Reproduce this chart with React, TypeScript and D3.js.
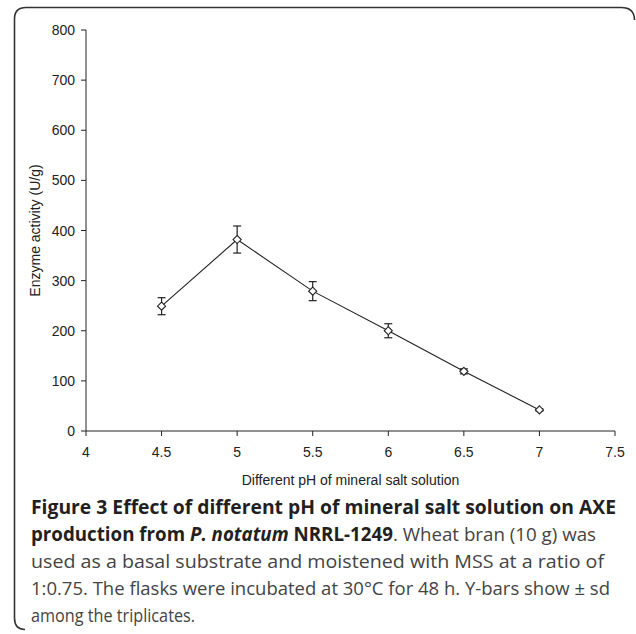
import React from 'react';
import * as d3 from 'd3';

const phValues = [4.5, 5, 5.5, 6, 6.5, 7];
const activity = [249, 382, 279, 200, 119, 42];
const stdDev = [17, 27, 19, 14, 5, 2];
const xTicks = [4, 4.5, 5, 5.5, 6, 6.5, 7, 7.5];
const yTicks = [0, 100, 200, 300, 400, 500, 600, 700, 800];

const W = 636;
const H = 634;
const m = { left: 86, right: 21, top: 30, bottom: 203 };

export default function App() {
  const x = d3.scaleLinear().domain([4, 7.5]).range([m.left, W - m.right]);
  const y = d3.scaleLinear().domain([0, 800]).range([H - m.bottom, m.top]);
  const pts = phValues.map((p, i) => ({ p, v: activity[i], sd: stdDev[i] }));
  const line = d3.line<{ p: number; v: number }>().x(d => x(d.p)).y(d => y(d.v));
  const diamond = d3.symbol().type(d3.symbolDiamond2).size(42)();
  const axisColor = '#222';
  const font = "'Liberation Sans', Arial, sans-serif";
  const cap = "'Open Sans', 'Noto Sans', sans-serif";
  const y0 = y(0);
  const plotMidX = (x(4) + x(7.5)) / 2;
  const plotMidY = (y(0) + y(800)) / 2;

  return (
    <svg width={W} height={H} style={{ position: 'absolute', left: 0, top: 0 }}>
      <rect width={W} height={H} fill="#fff" />
      <path d="M 634.5 20 Q 634.5 7.5 621 7.5 L 26 7.5 Q 14.5 7.5 14.5 19 L 14.5 618 Q 14.5 629.5 25 629.5"
        fill="none" stroke="#333" strokeWidth={1.6} />

      {/* axes */}
      <line x1={x(4)} x2={x(4)} y1={y(800)} y2={y0} stroke={axisColor} strokeWidth={1} />
      <line x1={x(4)} x2={x(7.5)} y1={y0} y2={y0} stroke={axisColor} strokeWidth={1} />
      {yTicks.map(t => (
        <g key={'y' + t}>
          <line x1={x(4) - 5} x2={x(4)} y1={y(t)} y2={y(t)} stroke={axisColor} />
          <text x={x(4) - 11} y={y(t) + 5} textAnchor="end" fontSize={14} fontFamily={font} fill="#222">{t}</text>
        </g>
      ))}
      {xTicks.map(t => (
        <g key={'x' + t}>
          <line x1={x(t)} x2={x(t)} y1={y0} y2={y0 + 5} stroke={axisColor} />
          <text x={x(t)} y={y0 + 26} textAnchor="middle" fontSize={14} fontFamily={font} fill="#222">{t}</text>
        </g>
      ))}
      <text transform={`translate(40,${plotMidY}) rotate(-90)`} textAnchor="middle" fontSize={14} fontFamily={font} fill="#222">
        Enzyme activity (U/g)
      </text>
      <text x={plotMidX} y={485} textAnchor="middle" fontSize={14} fontFamily={font} fill="#222">
        Different pH of mineral salt solution
      </text>

      {/* data line */}
      <path d={line(pts) ?? ''} fill="none" stroke="#222" strokeWidth={1.1} />
      {pts.map(d => (
        <g key={'e' + d.p} stroke="#222" strokeWidth={1.2}>
          <line x1={x(d.p)} x2={x(d.p)} y1={y(d.v + d.sd)} y2={y(d.v - d.sd)} />
          <line x1={x(d.p) - 4} x2={x(d.p) + 4} y1={y(d.v + d.sd)} y2={y(d.v + d.sd)} />
          <line x1={x(d.p) - 4} x2={x(d.p) + 4} y1={y(d.v - d.sd)} y2={y(d.v - d.sd)} />
        </g>
      ))}
      {pts.map(d => (
        <path key={'m' + d.p} d={diamond ?? ''} transform={`translate(${x(d.p)},${y(d.v)})`}
          fill="#fff" stroke="#222" strokeWidth={1.1} />
      ))}

      {/* caption */}
      <g fontFamily={cap} fontSize={19} fill="#231f20">
        <text x={31} y={514} fontWeight="bold" textLength={585} lengthAdjust="spacingAndGlyphs">
          Figure 3 Effect of different pH of mineral salt solution on AXE
        </text>
        <text x={31} y={541} textLength={565} lengthAdjust="spacingAndGlyphs">
          <tspan fontWeight="bold">production from </tspan>
          <tspan fontWeight="bold" fontStyle="italic">P. notatum</tspan>
          <tspan fontWeight="bold"> NRRL-1249</tspan>
          <tspan fill="#444">. Wheat bran (10 g) was</tspan>
        </text>
        <text x={31} y={568} fill="#444" textLength={573} lengthAdjust="spacingAndGlyphs">
          used as a basal substrate and moistened with MSS at a ratio of
        </text>
        <text x={31} y={595} fill="#444" textLength={579} lengthAdjust="spacingAndGlyphs">
          1:0.75. The flasks were incubated at 30°C for 48 h. Y-bars show ± sd
        </text>
        <text x={31} y={622} fill="#444" textLength={164} lengthAdjust="spacingAndGlyphs">
          among the triplicates.
        </text>
      </g>
    </svg>
  );
}
